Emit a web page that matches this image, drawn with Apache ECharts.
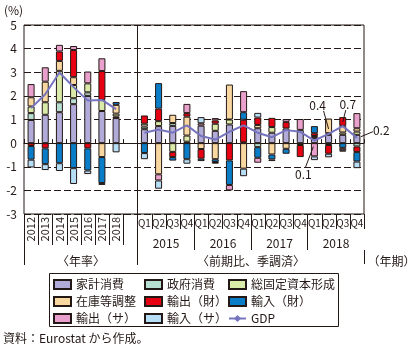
<!DOCTYPE html>
<html><head><meta charset="utf-8">
<script src="https://cdn.jsdelivr.net/npm/echarts@6/dist/echarts.min.js"></script>
<style>html,body{margin:0;padding:0;background:#fff}#main{width:409px;height:349px}</style>
</head><body><div id="main"></div>
<script>
// ---- tick labels / categories ----
const annualYears = ['2012','2013','2014','2015','2016','2017','2018'];
const quarterYears = ['2015','2016','2017','2018'];
const quarterNames = ['Q1','Q2','Q3','Q4'];
const categories = annualYears.concat(['']).concat(
  quarterYears.reduce((a, y) => a.concat(quarterNames.map(q => y + q)), []));
const yTicks = { min: -3, max: 5, interval: 1 };

// ---- series values (2012..2018, gap, 2015Q1..2018Q4) ----
const household = [0.98,1.20,1.31,1.65,2.00,1.36,1.06,null,
  0.59,0.72,0.73,0.06, 0.74,0.52,0.79,0.03, 0.63,0.44,0.62,0.56, 0.22,0.35,0.35,0.35];
const government = [0.29,null,0.42,0.25,0.15,null,0.07,null,
  0.11,null,0.12,null, null,null,null,null, -0.17,null,null,null, null,-0.08,null,-0.14];
const gfcf = [0.28,0.53,1.33,0.56,0.38,0.47,0.12,null,
  0.12,0.21,-0.37,0.26, null,0.30,0.21,null, null,0.24,null,-0.08, null,0.07,0.10,0.14];
const inventory = [0.39,0.87,0.42,0.33,null,-0.59,0.37,null,
  null,-1.32,0.35,0.80, -0.25,-0.68,1.48,-1.08, 0.14,-0.48,-0.24,null, 0.08,0.62,0.28,0.14];
const exportGoods = [-0.12,-0.22,0.40,1.15,-0.22,1.22,null,null,
  0.35,0.53,-0.22,0.15, -0.41,0.14,-0.73,0.96, 0.31,0.39,0.28,-0.51, 0.12,-0.37,0.37,-0.24];
const importGoods = [-0.58,-0.67,-0.85,-1.06,-0.94,-1.10,0.12,null,
  -0.42,1.08,-0.15,-0.68, -0.10,-0.12,-1.04,0.32, -0.45,-0.21,-0.21,null, 0.30,null,-0.20,-0.40];
const exportServices = [0.56,0.61,0.28,0.17,0.50,0.54,null,null,
  null,-0.26,null,0.39, 0.10,0.10,-0.23,0.89, -0.21,null,0.12,0.46, -0.56,null,-0.10,0.64];
const importServices = [-0.33,-0.25,-0.33,-0.67,-0.15,-0.08,-0.39,null,
  -0.26,-0.35,null,-0.19, 0.26,-0.07,null,-0.32, 0.20,-0.07,null,null, -0.16,-0.15,-0.06,-0.28];
const gdp = [1.48,2.07,2.99,2.37,1.80,1.83,1.44,null,
  0.44,0.58,0.44,0.75, 0.30,0.15,0.48,0.75, 0.44,0.25,0.55,0.48, 0.11,0.39,0.72,0.23];
const labeledGdp = [20, 21, 22, 23];

const seriesNames = ['家計消費','政府消費','総固定資本形成','在庫等調整','輸出（財）','輸入（財）','輸出（サ）','輸入（サ）'];
const seriesValues = [household, government, gfcf, inventory, exportGoods, importGoods, exportServices, importServices];
const seriesColors = ['#b1abd9','#b7e0d2','#d9eaa9','#f8d7a0','#e60012','#0a7dc9','#eaa0cc','#b6def7'];
const gdpName = 'GDP';
const gdpColor = '#7674bf';

const INK = '#231815';
const FF = '"Noto Sans CJK JP", "Noto Sans", sans-serif';

const chart = echarts.init(document.getElementById('main'), null, { renderer: 'canvas' });

const series = seriesNames.map((n, i) => ({
  name: n, type: 'bar', stack: 'total', xAxisIndex: 0, yAxisIndex: 0,
  barWidth: 7, data: seriesValues[i],
  itemStyle: { color: seriesColors[i], borderColor: INK, borderWidth: 1 },
  emphasis: { disabled: true }, animation: false
}));
series.push({
  name: gdpName, type: 'line', xAxisIndex: 0, yAxisIndex: 0, data: gdp,
  connectNulls: false, symbol: 'diamond', symbolSize: 10, z: 5,
  lineStyle: { color: gdpColor, width: 2 }, itemStyle: { color: gdpColor },
  emphasis: { disabled: true }, animation: false
});

const legendBase = {
  orient: 'vertical', top: 278, padding: 0, itemWidth: 17, itemHeight: 9, itemGap: 4,
  selectedMode: false, textStyle: { fontSize: 12, color: INK, fontFamily: FF, lineHeight: 13 }
};
const legItem = n => (n === gdpName ? { name: n } : { name: n, icon: 'rect' });

const option = {
  animation: false,
  backgroundColor: '#fff',
  textStyle: { fontFamily: FF },
  grid: { left: 24, top: 25, width: 340, height: 189, show: true, borderColor: INK, borderWidth: 1,
          backgroundColor: 'transparent', containLabel: false, outerBoundsMode: 'none' },
  legend: [
    Object.assign({ left: 53, data: [seriesNames[0], seriesNames[3], seriesNames[6]].map(legItem) }, legendBase),
    Object.assign({ left: 144, data: [seriesNames[1], seriesNames[4], seriesNames[7]].map(legItem) }, legendBase),
    Object.assign({ left: 228, data: [seriesNames[2], seriesNames[5], gdpName].map(legItem) }, legendBase)
  ],
  xAxis: [
    { type: 'category', data: categories, position: 'bottom',
      axisLine: { show: true, onZero: true, lineStyle: { color: INK, width: 1 } },
      axisTick: { show: true, inside: true, length: 4, interval: 0, alignWithLabel: false, lineStyle: { color: INK } },
      axisLabel: { show: false }, splitLine: { show: false } },
    { type: 'category', data: categories, position: 'bottom',
      axisLine: { show: false, onZero: false }, axisTick: { show: false }, splitLine: { show: false },
      axisLabel: { show: true, interval: 0, rotate: 90, margin: 3, fontSize: 11, color: INK, fontFamily: FF,
        formatter: (v, i) => (i < annualYears.length ? v : '') } },
    { type: 'category', data: categories, position: 'bottom',
      axisLine: { show: false, onZero: false }, axisTick: { show: false }, splitLine: { show: false },
      axisLabel: { show: true, interval: 0, margin: 4, fontSize: 10, color: INK, fontFamily: FF,
        formatter: (v, i) => (i > annualYears.length ? quarterNames[(i - annualYears.length - 1) % 4] : '') } }
  ],
  yAxis: {
    type: 'value', min: yTicks.min, max: yTicks.max, interval: yTicks.interval,
    axisLine: { show: false }, axisTick: { show: false },
    axisLabel: { fontSize: 12, color: INK, margin: 7, fontFamily: FF },
    splitLine: { show: true, lineStyle: { color: INK, width: 1, type: [7, 3] } }
  },
  series: series
};
chart.setOption(option);

// ---- decorations derived from the axes ----
const px = i => chart.convertToPixel({ xAxisIndex: 0 }, i);
const py = v => chart.convertToPixel({ yAxisIndex: 0 }, v);
const band = px(1) - px(0);
const edge = k => Math.round(px(0) - band / 2 + k * band) + 0.5;
const yTop = py(yTicks.max), yBot = py(yTicks.min);
const els = [];
const line = (x1, y1, x2, y2) => els.push({ type: 'line', silent: true, z: 10,
  shape: { x1, y1, x2, y2 }, style: { stroke: INK, lineWidth: 1 } });
const text = (t, x, y, align, size) => els.push({ type: 'text', silent: true, z: 10, x, y,
  style: { text: t, fill: INK, fontSize: size || 12, fontWeight: 'normal', fontFamily: FF,
           align: align || 'center', verticalAlign: 'middle' } });

const nA = annualYears.length + 1;
const nC = categories.length;
line(edge(0), yBot, edge(0), yBot + 51);
for (let k = 1; k < nA; k++) line(edge(k), yBot, edge(k), yBot + 31);
line(edge(nA), yTop, edge(nA), yBot + 51);
for (let k = nA + 1; k < nC; k++) {
  const isYear = (k - nA) % 4 === 0;
  line(edge(k), yBot, edge(k), yBot + (isYear ? 36 : 15));
}
line(edge(nC), yBot, edge(nC), yBot + 15);
line(edge(nC), yBot + 36, edge(nC), yBot + 50);
quarterYears.forEach((y, g) => {
  const a = edge(nA + 4 * g), b = edge(nA + 4 * g + 4);
  text(y, (a + b) / 2, yBot + 29);
});
text('〈年率〉', (edge(0) + edge(nA)) / 2, yBot + 47);
text('〈前期比、季調済〉', (edge(nA) + edge(nC)) / 2, yBot + 47);
text('（年期）', edge(nC) + 3, yBot + 47, 'left');
text('(%)', 4, 10, 'left');
text('資料：Eurostat から作成。', 3, 338, 'left');

// GDP value labels with leader lines
const lab = {
  20: { t: [-11, 34], a: [-1, 6], b: [-9, 27], align: 'center' },
  21: { t: [-11, -28], a: [-5, -23], b: [0, -5], align: 'center' },
  22: { t: [5, -22], a: [3, -16], b: [0, -4], align: 'center' },
  23: { t: [16, -7], a: [16, -6], b: [4, -1], align: 'left' }
};
labeledGdp.forEach(i => {
  const cx = px(i), cy = py(gdp[i]), L = lab[i];
  line(cx + L.a[0], cy + L.a[1], cx + L.b[0], cy + L.b[1]);
  text(gdp[i].toFixed(1), cx + L.t[0], cy + L.t[1], L.align);
});

// legend frame
els.push({ type: 'rect', silent: true, z: 0, shape: { x: 49.5, y: 273.5, width: 289, height: 53 },
  style: { fill: 'none', stroke: INK, lineWidth: 1 } });

chart.setOption({ graphic: els });
</script></body></html>
